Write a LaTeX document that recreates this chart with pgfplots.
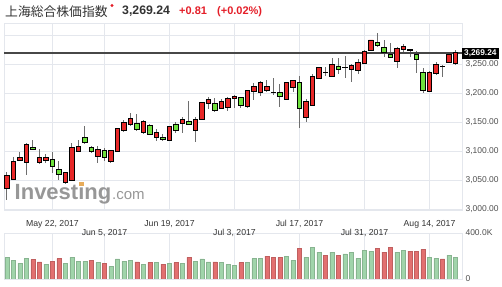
\documentclass[border=0pt]{standalone}
\usepackage{pgfplots}
\pgfplotsset{compat=1.18}
\usepackage{pgfplotstable}
\usepackage{fontspec}
\setmainfont{Liberation Sans}
\newfontfamily\cjk{Noto Sans CJK JP}
\definecolor{gridc}{RGB}{228,231,237}
\definecolor{candr}{RGB}{232,40,40}
\definecolor{candg}{RGB}{110,225,60}
\definecolor{volg}{RGB}{160,212,170}
\definecolor{volr}{RGB}{226,112,112}
\definecolor{titc}{RGB}{51,51,51}
\definecolor{redt}{RGB}{228,30,40}
\definecolor{labc}{RGB}{80,80,80}
\definecolor{wickc}{RGB}{110,110,110}
\definecolor{orng}{RGB}{232,172,90}

\pgfplotstableread{
i o h l c
0 3035.7 3063.0 3015.5 3058.6
1 3051.7 3090.0 3050.0 3081.6
2 3083.3 3098.8 3083.0 3088.5
3 3080.5 3113.0 3058.6 3112.0
4 3106.3 3119.0 3101.7 3102.3
5 3080.5 3103.0 3077.0 3088.5
6 3084.5 3095.0 3080.0 3089.0
7 3085.7 3099.0 3061.5 3074.0
8 3068.4 3083.3 3050.0 3060.3
9 3045.4 3064.0 3043.0 3062.6
10 3050.0 3113.0 3049.0 3106.3
11 3098.8 3119.0 3098.0 3108.6
12 3123.6 3143.0 3112.0 3114.3
13 3105.7 3109.0 3097.0 3100.0
14 3091.4 3109.0 3080.0 3103.0
15 3100.5 3104.6 3083.3 3088.5
16 3082.8 3102.0 3078.8 3100.5
17 3100.0 3140.0 3099.0 3139.0
18 3135.0 3153.4 3132.0 3148.8
19 3146.0 3165.0 3143.6 3156.3
20 3147.7 3163.0 3134.5 3137.4
21 3132.0 3153.0 3129.3 3151.7
22 3144.8 3146.0 3127.6 3129.3
23 3123.6 3137.4 3117.0 3131.6
24 3124.0 3129.3 3117.0 3120.7
25 3119.0 3143.0 3118.0 3142.0
26 3146.6 3150.5 3131.6 3136.0
27 3147.7 3158.0 3131.6 3154.6
28 3150.5 3186.0 3146.0 3146.6
29 3135.0 3158.0 3116.0 3155.0
30 3155.0 3185.0 3154.0 3184.0
31 3182.0 3193.6 3172.0 3189.0
32 3182.0 3192.0 3167.8 3170.7
33 3173.6 3189.0 3172.0 3186.0
34 3174.7 3193.6 3169.5 3190.8
35 3190.0 3196.6 3174.7 3194.8
36 3192.0 3193.6 3173.6 3179.3
37 3176.4 3206.0 3173.6 3205.0
38 3202.0 3216.7 3188.0 3211.0
39 3200.5 3220.0 3194.8 3217.8
40 3205.0 3222.4 3201.0 3211.0
41 3200.5 3226.0 3196.6 3200.8
42 3200.5 3215.0 3176.4 3195.0
43 3189.7 3219.0 3189.0 3217.8
44 3209.0 3223.0 3202.0 3221.0
45 3218.5 3229.0 3139.5 3174.0
46 3158.0 3190.0 3149.5 3186.0
47 3178.0 3232.8 3177.0 3229.0
48 3225.3 3245.0 3223.6 3243.7
49 3235.0 3244.0 3229.3 3235.3
50 3229.3 3259.8 3228.0 3249.4
51 3246.6 3259.8 3232.0 3240.8
52 3244.3 3264.3 3225.3 3244.6
53 3240.8 3250.0 3219.5 3248.0
54 3238.5 3258.0 3232.0 3252.0
55 3251.0 3274.0 3250.0 3272.4
56 3273.0 3292.0 3272.0 3291.4
57 3287.4 3304.0 3280.0 3281.6
58 3278.7 3291.4 3262.6 3269.5
59 3267.0 3285.6 3259.8 3261.0
60 3255.0 3279.8 3242.6 3277.0
61 3275.3 3284.5 3268.4 3281.0
62 3274.5 3276.0 3262.6 3273.5
63 3267.0 3273.0 3234.0 3258.6
64 3235.7 3242.6 3199.5 3205.0
65 3203.4 3238.0 3201.7 3235.7
66 3234.0 3254.0 3231.0 3249.4
67 3245.5 3248.0 3228.0 3245.8
68 3252.0 3271.0 3251.0 3266.7
69 3251.0 3274.0 3248.0 3269.24
}\candles

\pgfplotsset{
  pricebox/.style={at={(4pt,76pt)}, anchor=south west, width=458pt, height=187pt, scale only axis,
    xmin=-0.46, xmax=70, ymin=2998.3, ymax=3320.7},
}

\begin{document}
\begin{tikzpicture}[x=1pt,y=1pt]
\useasboundingbox (0pt,0pt) rectangle (502pt,286pt);
% title
\node[anchor=base west, inner sep=0, text=titc, font=\cjk\fontsize{12.8}{13}\selectfont] at (5pt,269pt) {上海総合株価指数};
\fill[redt] (112pt,280.5pt) circle (1.6pt);
\node[anchor=base west, inner sep=0, text=titc, font=\bfseries\fontsize{12.3}{13}\selectfont] at (122pt,271pt) {3,269.24};
\node[anchor=base west, inner sep=0, text=redt, font=\bfseries\fontsize{11}{12}\selectfont] at (179pt,271pt) {+0.81};
\node[anchor=base west, inner sep=0, text=redt, font=\bfseries\fontsize{11}{12}\selectfont] at (217pt,271pt) {(+0.02\%)};

% price axis: grid, wicks, price line
\begin{axis}[pricebox,
  axis line style={draw=gridc},
  xtick={7,15,25,35,45,55,65},
  xticklabels={{May 22, 2017},{},{Jun 19, 2017},{},{Jul 17, 2017},{},{Aug 14, 2017}},
  xticklabel style={font=\fontsize{8.7}{9}\selectfont, text=titc, yshift=-6.5pt},
  ytick={3000,3050,...,3250},
  extra y ticks={3300}, extra y tick labels={}, extra tick style={grid=major},
  grid=major, major grid style={draw=gridc, line width=0.8pt},
  major tick length=0pt,
  yticklabel pos=right,
  yticklabel style={font=\fontsize{8.5}{9}\selectfont, text=labc,
    /pgf/number format/.cd, fixed, fixed zerofill, precision=2, 1000 sep={,}, assume math mode=true},
]
\addplot[draw=none, mark=none, forget plot,
  error bars/.cd, y dir=both, y explicit, error mark=none,
  error bar style={draw=wickc, line width=1pt}]
  table[x=i, y expr={(\thisrow{h}+\thisrow{l})/2}, y error expr={(\thisrow{h}-\thisrow{l})/2}] {\candles};
\addplot[draw=black!72, line width=1.5pt] coordinates {(-0.46,3269.24) (70,3269.24)};
\end{axis}

% watermark
\node[anchor=base west, inner sep=0, text=black!45, font=\bfseries\fontsize{22}{22}\selectfont, opacity=0.9] at (14.5pt,86pt) {Investing};
\node[anchor=base west, inner sep=0, text=black!45, font=\fontsize{15}{15}\selectfont, opacity=0.9] at (112pt,86pt) {.com};
\fill[orng] (79.3pt,100pt) rectangle (84pt,104.3pt);

% candle bodies
\begin{axis}[pricebox, hide axis, ybar stacked, bar width=4.6pt]
\addplot[draw=none, fill=none] table[x=i, y expr={min(\thisrow{o},\thisrow{c})}] {\candles};
\addplot[draw=black, fill=candr, line width=0.8pt] table[x=i, y expr={\thisrow{c}>=\thisrow{o} ? \thisrow{c}-\thisrow{o} : 0}] {\candles};
\addplot[draw=black, fill=candg, line width=0.8pt] table[x=i, y expr={\thisrow{c}<\thisrow{o} ? \thisrow{o}-\thisrow{c} : 0}] {\candles};
\end{axis}

% current price label
\node[fill=black, text=white, font=\bfseries\fontsize{8.3}{9}\selectfont, inner xsep=2pt, inner ysep=0pt, minimum height=10.5pt, anchor=west] at (462pt,232.5pt) {3,269.24};

% volume axis
\begin{axis}[at={(4pt,7pt)}, anchor=south west, width=458pt, height=46pt, scale only axis,
  xmin=-0.46, xmax=70, ymin=0, ymax=400,
  axis line style={draw=gridc},
  xtick={7,15,25,35,45,55,65},
  xticklabels={{},{Jun 5, 2017},{},{Jul 3, 2017},{},{Jul 31, 2017},{}},
  xticklabel pos=upper,
  xticklabel style={font=\fontsize{8.7}{9}\selectfont, text=titc, yshift=-7.3pt},
  xmajorgrids, major grid style={draw=gridc, line width=0.8pt},
  ytick={0,400}, yticklabels={0,400.0K}, yticklabel pos=right,
  yticklabel style={font=\fontsize{8.5}{9}\selectfont, text=labc},
  major tick length=0pt,
  ybar, bar width=4.3pt]
\addplot[fill=volg, draw=volg!85!black, line width=0.4pt, bar shift=0pt] coordinates {
(0,189) (1,163) (2,136) (3,177) (6,130) (9,139) (10,189) (11,154) (12,154) (14,143)
(16,110) (17,174) (18,154) (19,163) (21,130) (23,143) (25,136) (27,136) (29,154) (30,174)
(31,148) (33,143) (34,127) (35,121) (37,143) (38,177) (39,177) (43,198) (44,163) (46,189)
(47,274) (48,233) (50,233) (52,218) (53,233) (54,180) (55,248) (56,242) (60,233) (61,248)
(65,189) (66,180) (68,207) (69,189)};
\addplot[fill=volr, draw=volr!85!black, line width=0.4pt, bar shift=0pt] coordinates {
(4,169) (5,148) (7,154) (8,177) (13,163) (15,136) (20,148) (22,143) (24,130) (26,143)
(28,189) (32,148) (36,143) (40,198) (41,189) (42,189) (45,265) (49,204) (51,204) (57,265)
(58,233) (59,274) (62,242) (63,242) (64,257) (67,174)};
\end{axis}
\end{tikzpicture}
\end{document}
